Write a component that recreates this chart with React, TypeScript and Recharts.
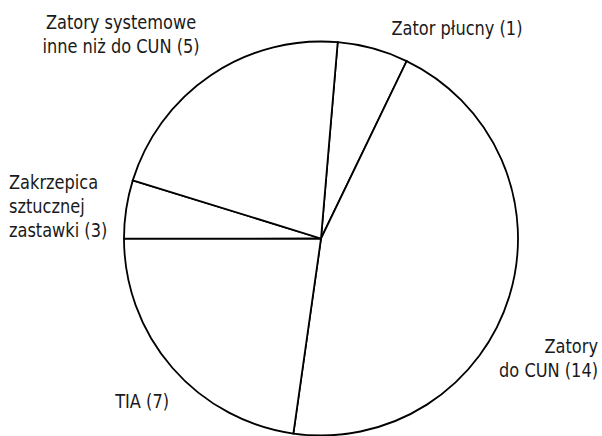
import { PieChart, Pie, Cell } from "recharts";

// counts shown in the labels
const names = [
  "Zator płucny",
  "Zatory do CUN",
  "TIA",
  "Zakrzepica sztucznej zastawki",
  "Zatory systemowe inne niż do CUN",
];
const counts = [1, 14, 7, 3, 5];
// slice sizes as drawn in the picture (degrees of the circle)
const drawnShare = [20.9, 162.3, 81.9, 17.2, 77.7];
const labelLines = [
  ["Zator płucny (1)"],
  ["Zatory", "do CUN (14)"],
  ["TIA (7)"],
  ["Zakrzepica", "sztucznej", "zastawki (3)"],
  ["Zatory systemowe", "inne niż do CUN (5)"],
];

const data = names.map((name, i) => ({ name, count: counts[i], value: drawnShare[i] }));

// label placement relative to the pie centre
const labelPos = [
  { dx: 136, dy: -203.5, anchor: "middle" },
  { dx: 277, dy: 114.5, anchor: "end" },
  { dx: -152, dy: 169.5, anchor: "end" },
  { dx: -312, dy: -50, anchor: "start" },
  { dx: -200, dy: -210, anchor: "middle" },
];

const FONT = "'DejaVu Sans Condensed', 'Liberation Sans', sans-serif";

const renderLabel = (props: any) => {
  const { cx, cy, index } = props;
  const p = labelPos[index];
  return (
    <text
      transform={`translate(${cx + p.dx},${cy + p.dy}) scale(0.9,1)`}
      x={0}
      y={0}
      textAnchor={p.anchor}
      fontFamily={FONT}
      fontSize={20}
      fill="#1a1a1a"
    >
      {labelLines[index].map((line, j) => (
        <tspan key={j} x={0} dy={j === 0 ? 0 : 24.5}>
          {line}
        </tspan>
      ))}
    </text>
  );
};

export default function App() {
  return (
    <div style={{ position: "absolute", left: 0, top: 0, width: 602, height: 436, background: "#fff" }}>
      <PieChart width={602} height={436} margin={{ top: 0, right: 0, bottom: 0, left: 0 }}>
        <Pie
          data={data}
          dataKey="value"
          cx={321}
          cy={238.5}
          outerRadius={197}
          startAngle={85.14}
          endAngle={-274.86}
          label={renderLabel}
          labelLine={false}
          isAnimationActive={false}
        >
          {data.map((d) => (
            <Cell key={d.name} fill="#fff" stroke="#000" strokeWidth={1.8} />
          ))}
        </Pie>
      </PieChart>
    </div>
  );
}
